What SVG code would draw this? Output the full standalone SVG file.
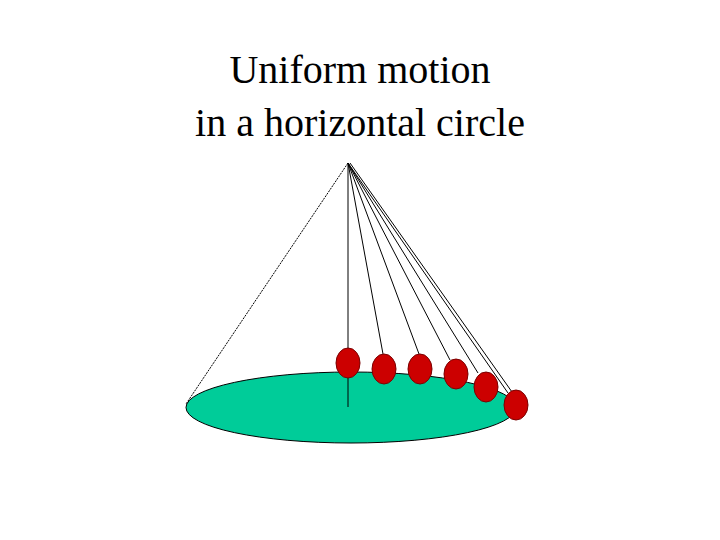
<svg xmlns="http://www.w3.org/2000/svg" width="720" height="540" viewBox="0 0 720 540">
<style>
.t{font-family:"Liberation Serif",serif;font-size:40px;text-anchor:middle;fill:#000}
.s{stroke:#000;stroke-width:1;fill:none}
.b{fill:#cc0000;stroke:#7a0000;stroke-width:1}
</style>
<rect width="720" height="540" fill="#fff"/>
<text class="t" x="360" y="83">Uniform motion</text>
<text class="t" x="360" y="136">in a horizontal circle</text>
<g id="disc"><ellipse cx="351" cy="407.5" rx="165" ry="35.5" fill="#00cc99" stroke="#000" stroke-width="1"/></g>
<g id="connectors">
<line class="s" x1="348" y1="163" x2="186" y2="404" stroke-dasharray="2,1"/>
<line class="s" x1="348" y1="163" x2="348" y2="407"/>
<line class="s" x1="348" y1="163" x2="383" y2="354"/>
<line class="s" x1="348" y1="163" x2="419" y2="354"/>
<line class="s" x1="348" y1="163" x2="450" y2="360"/>
<line class="s" x1="348" y1="163" x2="478" y2="373"/>
<line class="s" x1="348" y1="163" x2="508" y2="393"/>
<line class="s" x1="350" y1="163" x2="512" y2="392"/>
</g>
<g id="ball1"><ellipse class="b" cx="348" cy="363" rx="12" ry="15"/></g>
<g id="ball2"><ellipse class="b" cx="384" cy="369" rx="12" ry="15"/></g>
<g id="ball3"><ellipse class="b" cx="420" cy="369" rx="12" ry="15"/></g>
<g id="ball4"><ellipse class="b" cx="456" cy="374" rx="12" ry="15"/></g>
<g id="ball5"><ellipse class="b" cx="486" cy="387" rx="12" ry="15"/></g>
<g id="ball6"><ellipse class="b" cx="516" cy="405" rx="12" ry="15"/></g>
</svg>
